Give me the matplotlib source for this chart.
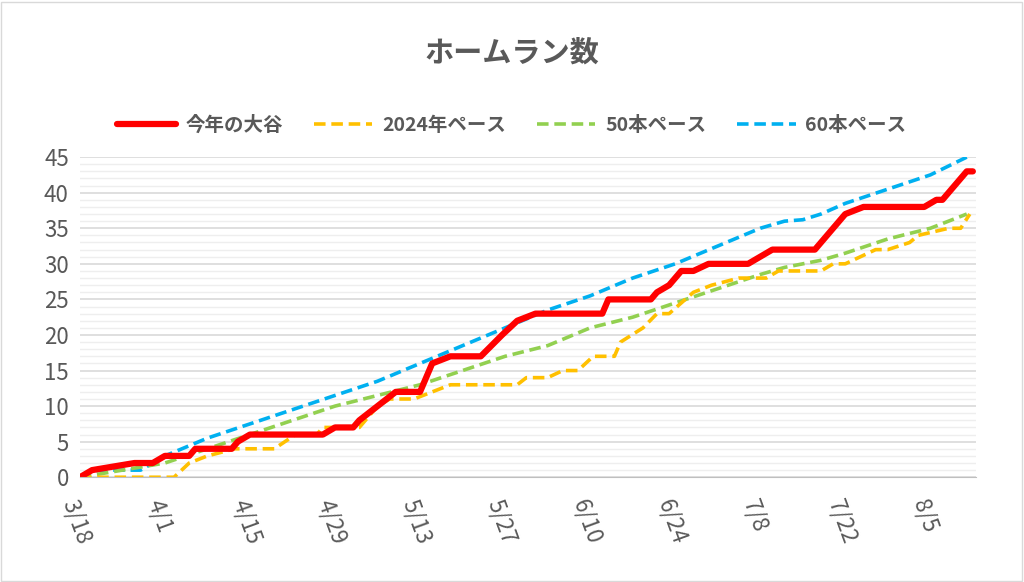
import matplotlib.pyplot as plt
import numpy as np

plt.rc('font', family='Noto Sans CJK JP')

# Days since 3/18
tick_days = [0, 14, 28, 42, 56, 70, 84, 98, 112, 126, 140]
tick_labels = ['3/18', '4/1', '4/15', '4/29', '5/13', '5/27', '6/10', '6/24', '7/8', '7/22', '8/5']

ohtani_d = [0, 2, 9, 12, 14, 18, 19, 25, 26, 28, 40, 42, 45, 46, 49, 52, 56, 58, 61, 66, 69.5, 72, 75,
            86, 87, 94, 95, 97, 99, 101, 103.5, 110, 112, 114, 121, 126, 129, 139, 141, 142, 146, 147]
ohtani_v = [0, 1, 2, 2, 3, 3, 4, 4, 5, 6, 6, 7, 7, 8, 10, 12, 12, 16, 17, 17, 20, 22, 23,
            23, 25, 25, 26, 27, 29, 29, 30, 30, 31, 32, 32, 37, 38, 38, 39, 39, 43, 43]

y2024_d = [0, 15.5, 18, 21, 25.5, 32, 35.5, 39, 40, 46, 49, 51, 55, 58, 61, 72, 73.5, 77, 79.5, 82, 84.5,
           88, 89, 92.7, 95, 97, 101, 104, 108.5, 113, 115, 122, 124, 126, 131, 133, 136.6, 138, 143, 145, 146.5]
y2024_v = [0, 0, 2, 3, 4, 4, 6, 6, 7, 7, 10, 11, 11, 12, 13, 13, 14, 14, 15, 15, 17,
           17, 19, 21, 23, 23, 26, 27, 28, 28, 29, 29, 30, 30, 32, 32, 33, 34, 35, 35, 37]

p50_d = [0, 7, 14, 21, 28, 35, 42, 49, 56, 63, 70, 77, 84, 91, 98, 105, 112, 116, 119, 122, 126, 133, 140, 146]
p50_v = [0, 1, 2, 4, 6, 8, 10, 11.5, 13, 15, 17, 18.5, 21, 22.5, 24.5, 26.5, 28.5, 29.5, 30, 30.5, 31.5, 33.5, 35, 37]

p60_d = [0, 3, 10, 14, 21, 28, 35, 42, 49, 56, 63, 70, 77, 84, 91, 98, 105, 112, 116, 119, 122, 126, 133, 140, 146]
p60_v = [0, 1, 1, 3, 5.5, 7.5, 9.5, 11.5, 13.5, 16, 18.5, 21, 23.5, 25.5, 28, 30, 32.5, 35, 36, 36.2, 37, 38.5, 40.5, 42.5, 45]

fig = plt.figure(figsize=(10.24, 5.82), dpi=100)
ax = fig.add_axes([0.078, 0.18, 0.875, 0.55])

gray = '#595959'
dash = (0, (3.2, 1.6))
ax.plot(p60_d, p60_v, color='#00b0f0', lw=2.6, ls=dash, label='60本ペース')
ax.plot(p50_d, p50_v, color='#92d050', lw=2.6, ls=dash, label='50本ペース')
ax.plot(y2024_d, y2024_v, color='#ffc000', lw=2.6, ls=dash, label='2024年ペース')
ax.plot(ohtani_d, ohtani_v, color='#ff0000', lw=4.5, solid_joinstyle='round', solid_capstyle='round', label='今年の大谷')

ax.set_xlim(0, 147.5)
ax.set_ylim(0, 45)
ax.set_yticks(range(0, 46, 5))
ax.set_yticks(range(0, 46), minor=True)
ax.set_xticks(tick_days)
ax.set_xticklabels(tick_labels, rotation=-70, ha='left', rotation_mode='anchor')
ax.tick_params(colors=gray, labelsize=16, length=0, which='both')
ax.tick_params(axis='x', pad=14)
ax.tick_params(axis='y', pad=8)
ax.grid(axis='y', which='major', color='#d9d9d9', lw=1.2)
ax.grid(axis='y', which='minor', color='#eeeeee', lw=1)
ax.set_axisbelow(True)
for s in ['top', 'right', 'left']:
    ax.spines[s].set_visible(False)
ax.spines['bottom'].set_color('#bfbfbf')

h, l = ax.get_legend_handles_labels()
order = [3, 2, 1, 0]
fig.legend([h[i] for i in order], [l[i] for i in order], loc='center', bbox_to_anchor=(0.5, 0.785),
           ncol=4, frameon=False, prop={'size': 14, 'weight': 'bold'}, labelcolor=gray,
           handlelength=3.0, handletextpad=0.5, columnspacing=1.6)

fig.text(0.5, 0.91, 'ホームラン数', ha='center', va='center', fontsize=21, fontweight='bold', color=gray)
fig.patches.append(plt.Rectangle((0.001, 0.002), 0.997, 0.995, transform=fig.transFigure,
                                 fill=False, edgecolor='#d9d9d9', lw=1))

plt.savefig('out.png')
